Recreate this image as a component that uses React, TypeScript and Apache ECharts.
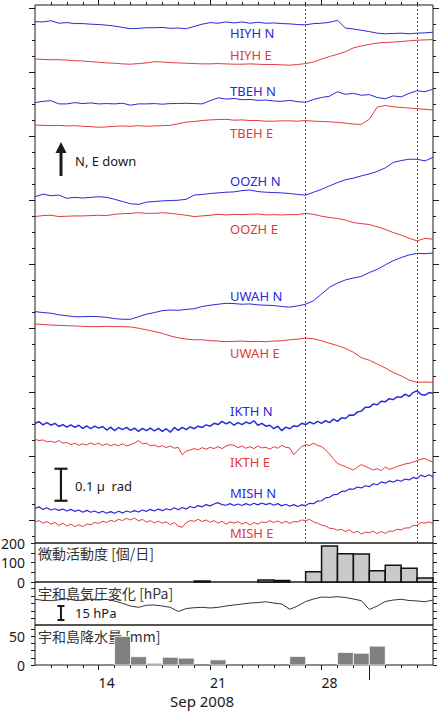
import React, { useEffect, useRef } from 'react';
import * as echarts from 'echarts';

// Time is measured in days from 2008-09-10 00:00 UTC; the record runs to 2008-10-05.
const T0 = Date.UTC(2008, 8, 10);
const T_SPAN = 25;
const dayOf = (iso: string) => (Date.parse(iso + 'T00:00:00Z') - T0) / 86400000;

// Tiltmeter records in nrad (stacked for display), one sample every half day.
const HALF_DAY = 0.5;
const QUARTER_DAY = 0.25;

const HIYH_N = [1557,1556,1560,1552,1554,1551,1551,1549,1548,1546,1543,1539,1535,1536,1538,1538,1539,1536,1537,1535,1542,1549,1554,1552,1556,1553,1556,1552,1555,1552,1553,1551,1550,1548,1547,1551,1552,1555,1561,1537,1534,1530,1526,1521,1519,1520,1521,1519,1521,1522,1524];
const HIYH_E = [1440,1439,1438,1438,1437,1435,1434,1432,1430,1428,1427,1425,1424,1426,1428,1432,1431,1429,1428,1427,1426,1425,1425,1426,1425,1424,1424,1425,1424,1423,1423,1422,1421,1423,1426,1431,1440,1448,1455,1463,1475,1481,1486,1490,1492,1493,1495,1497,1499,1500,1501];
const TBEH_N = [1304,1308,1310,1300,1300,1304,1301,1303,1300,1301,1300,1302,1296,1300,1300,1301,1299,1301,1301,1302,1301,1300,1310,1319,1315,1317,1313,1314,1311,1312,1309,1308,1311,1307,1305,1314,1320,1324,1338,1330,1333,1327,1329,1320,1316,1325,1322,1333,1341,1338,1346];
const TBEH_E = [1234,1233,1232,1233,1231,1232,1230,1229,1227,1228,1230,1231,1230,1232,1230,1231,1232,1233,1238,1243,1245,1248,1250,1251,1252,1249,1250,1248,1248,1246,1246,1247,1247,1246,1248,1246,1245,1244,1242,1240,1237,1236,1252,1290,1295,1291,1289,1287,1285,1283,1281];
const OOZH_N = [1010,1018,1013,1015,1005,1008,1006,1008,1010,1008,1002,995,988,986,993,995,997,998,999,1002,1015,1017,1020,1022,1024,1025,1029,1031,1026,1024,1023,1022,1020,1017,1015,1024,1033,1044,1054,1063,1068,1075,1081,1089,1100,1117,1123,1127,1127,1122,1133];
const OOZH_E = [948,951,952,948,949,950,950,951,952,951,955,957,958,960,958,958,960,958,955,952,948,950,952,955,953,955,954,955,956,953,954,953,954,954,958,955,949,945,942,937,929,926,923,916,908,898,890,880,872,880,877];
const UWAH_N = [651,648,646,641,638,635,635,636,635,633,629,627,627,635,643,648,654,656,655,658,660,667,671,674,677,676,674,675,672,671,670,667,665,669,674,685,706,727,740,750,756,761,773,783,797,810,820,828,833,832,834];
const UWAH_E = [612,611,609,608,607,606,605,604,604,605,604,604,603,599,594,589,583,575,569,565,563,563,560,559,557,558,559,557,558,557,559,560,563,565,568,566,560,552,545,536,524,507,499,487,475,461,450,437,430,431,430];

// The two noisier stations are read every quarter day.
const IKTH_N = [302,307,297,304,296,302,292,298,290,297,289,296,286,294,285,293,287,292,281,290,279,289,282,289,280,287,277,286,279,287,278,286,277,285,274,289,280,289,282,291,285,293,289,297,293,302,298,308,300,306,296,304,298,306,301,310,296,302,293,296,285,293,279,290,285,294,292,302,298,306,300,308,302,310,304,315,308,319,317,328,327,337,340,352,352,362,360,371,369,379,376,385,383,393,386,398,404,392,390,398,396];
const IKTH_E = [252,248,250,244,246,242,248,240,242,235,240,233,238,234,241,235,240,233,238,232,236,232,238,231,235,240,248,238,240,232,234,228,232,226,231,224,227,204,215,219,223,219,226,221,227,223,229,223,231,235,233,226,231,224,229,223,231,225,227,221,229,224,233,227,225,204,217,229,235,233,240,233,229,219,206,190,177,171,167,161,156,165,173,167,162,156,160,154,165,158,162,167,171,175,177,181,185,190,192,185,181];
const MISH_N = [36,41,33,38,31,35,30,34,28,33,27,31,24,30,24,28,22,27,21,26,21,27,22,28,24,29,25,31,27,33,28,34,29,35,31,38,32,39,34,42,38,45,41,48,44,50,54,48,46,51,45,50,45,51,46,52,47,53,48,52,46,51,44,49,43,48,42,47,45,52,51,59,60,69,71,79,80,89,90,97,96,103,100,107,104,113,110,119,115,122,118,125,121,128,125,133,129,140,135,141,135];
const MISH_E = [-6,-2,-10,-5,-13,-8,-17,-10,-19,-13,-21,-15,-21,-13,-15,-8,-11,-4,-8,-1,-5,2,-2,5,0,6,-3,2,-7,-2,-9,-4,-10,-6,-15,-8,-19,-23,-8,-2,-4,2,-5,0,-7,-2,-10,-4,-13,-6,-10,-5,-13,-7,-16,-8,-13,-6,-8,-2,-8,-3,-10,-4,-11,-5,-6,0,-2,2,-6,-10,-16,-19,-26,-27,-32,-29,-36,-31,-40,-35,-44,-38,-40,-35,-43,-36,-42,-35,-35,-29,-31,-25,-25,-17,-17,-8,-10,-6,-11];

// Days of notable activity marked across the tilt records.
const EVENT_DATES = ['2008-09-27', '2008-10-04'];

// Daily tremor activity [events/day].
const TREMOR_DATES = ['2008-09-20','2008-09-24','2008-09-25','2008-09-27','2008-09-28','2008-09-29','2008-09-30','2008-10-01','2008-10-02','2008-10-03','2008-10-04'];
const TREMOR_COUNTS = [5, 10, 8, 53, 185, 145, 143, 58, 86, 70, 21];

// Uwajima air-pressure change [hPa], every half day.
const PRESSURE = [-3.5,-4.6,-5.0,-4.0,-2.9,-4.6,-4.6,-3.5,-4.3,-3.5,-5.3,-7.8,-10.7,-12.1,-9.9,-9.6,-10.7,-12.1,-16.6,-13.4,-12.5,-12.1,-12.8,-12.1,-10.7,-9.6,-8.6,-7.5,-7.0,-6.1,-7.5,-8.6,-14.2,-10.7,-5.9,-3.2,-1.1,-1.4,-0.7,-1.6,-3.2,-5.0,-14.4,-10.7,-5.9,-4.3,-3.5,-4.8,-5.3,-6.1,-4.3];

// Uwajima daily precipitation [mm].
const RAIN_DATES = ['2008-09-15','2008-09-16','2008-09-17','2008-09-18','2008-09-19','2008-09-21','2008-09-26','2008-09-29','2008-09-30','2008-10-01'];
const RAIN_MM = [50, 14.5, 3, 13.5, 12, 9, 15, 22, 20.5, 33];

// Reference bars: 0.1 µrad of tilt, 15 hPa of pressure.
const TILT_BAR_NRAD = 100;
const PRESSURE_BAR_HPA = 15;

// Date tick labels.
const WEEK_DATES = ['2008-09-14', '2008-09-21', '2008-09-28'];
const MONTH_DATE = '2008-10-01';

const BLUE = '#2929d8';
const RED = '#e3383c';
const INK = '#1a1a1a';
const LATIN = '"Noto Sans", "DejaVu Sans", sans-serif';
const CJK = '"Noto Sans CJK JP", "Noto Sans", sans-serif';

type Trace = { name: string; values: number[]; step: number; width: number };
const TRACES: Trace[] = [
  { name: 'HIYH N', values: HIYH_N, step: HALF_DAY, width: 1 },
  { name: 'HIYH E', values: HIYH_E, step: HALF_DAY, width: 1 },
  { name: 'TBEH N', values: TBEH_N, step: HALF_DAY, width: 1 },
  { name: 'TBEH E', values: TBEH_E, step: HALF_DAY, width: 1 },
  { name: 'OOZH N', values: OOZH_N, step: HALF_DAY, width: 1 },
  { name: 'OOZH E', values: OOZH_E, step: HALF_DAY, width: 1 },
  { name: 'UWAH N', values: UWAH_N, step: HALF_DAY, width: 1 },
  { name: 'UWAH E', values: UWAH_E, step: HALF_DAY, width: 1 },
  { name: 'IKTH N', values: IKTH_N, step: QUARTER_DAY, width: 1.5 },
  { name: 'IKTH E', values: IKTH_E, step: QUARTER_DAY, width: 1 },
  { name: 'MISH N', values: MISH_N, step: QUARTER_DAY, width: 1.2 },
  { name: 'MISH E', values: MISH_E, step: QUARTER_DAY, width: 1 },
];

const range = (a: number, b: number, s: number) => {
  const out: number[] = [];
  for (let v = a; v <= b + 1e-9; v += s) out.push(Math.round(v * 1000) / 1000);
  return out;
};

function buildOption() {
  const weekDays = WEEK_DATES.map(dayOf);
  const monthDay = dayOf(MONTH_DATE);
  const dailyTicks = range(1, T_SPAN - 1, 1);

  const tickLine = { color: INK, width: 1 };

  const xa = (gridIndex: number, position: string, ticks?: number[], len = 0, extra: any = {}) => ({
    type: 'value', gridIndex, position, min: 0, max: T_SPAN,
    axisLine: { show: false, onZero: false }, splitLine: { show: false },
    axisLabel: { show: false },
    axisTick: ticks ? { show: true, customValues: ticks, length: len, lineStyle: tickLine } : { show: false },
    ...extra,
  });
  const ya = (gridIndex: number, position: string, min: number, max: number, ticks: number[], len: number, extra: any = {}) => ({
    type: 'value', gridIndex, position, min, max,
    axisLine: { show: false, onZero: false }, splitLine: { show: false },
    axisLabel: { show: false },
    axisTick: { show: true, customValues: ticks, length: len, lineStyle: tickLine },
    ...extra,
  });

  const TILT_MIN = -72, TILT_MAX = 1609;
  const tiltMajor = range(0, 1600, 200);
  const tiltMinor = range(-50, 1600, 50);

  const yLabel = (values: number[]) => ({
    show: true, customValues: values, fontSize: 14, color: INK, margin: 10, fontFamily: LATIN,
  });

  const grids = [
    { left: 35, top: 5, width: 398, height: 538 },
    { left: 35, top: 543, width: 398, height: 39 },
    { left: 35, top: 582, width: 398, height: 43 },
    { left: 35, top: 625, width: 398, height: 40 },
  ].map((g) => ({ ...g, show: true, borderColor: INK, borderWidth: 1, containLabel: false, outerBoundsMode: 'none' }));

  const xAxis = [
    xa(0, 'top', weekDays, 5),
    xa(0, 'top', dailyTicks, 3),
    xa(1, 'bottom'),
    xa(2, 'bottom'),
    xa(3, 'bottom', weekDays, 5, {
      axisLabel: {
        show: true,
        customValues: weekDays.map((d) => d + 0.5),
        formatter: (v: number) => String(new Date(T0 + Math.floor(v) * 86400000).getUTCDate()),
        fontSize: 14, color: INK, margin: 10, fontFamily: LATIN,
      },
    }),
    xa(3, 'bottom', dailyTicks, 3),
    xa(3, 'bottom', [monthDay], 15),
  ];

  const yAxis = [
    ya(0, 'left', TILT_MIN, TILT_MAX, tiltMajor, 6),
    ya(0, 'left', TILT_MIN, TILT_MAX, tiltMinor, 3),
    ya(0, 'right', TILT_MIN, TILT_MAX, tiltMajor, 6),
    ya(0, 'right', TILT_MIN, TILT_MAX, tiltMinor, 3),
    ya(1, 'left', 0, 200, [0, 50, 100, 150, 200], 4, { axisLabel: yLabel([0, 100, 200]) }),
    ya(1, 'right', 0, 200, [0, 50, 100, 150, 200], 4),
    ya(2, 'left', -31, 15, [-24, -16, -8, 0, 8], 4),
    ya(2, 'right', -31, 15, [-24, -16, -8, 0, 8], 4),
    ya(3, 'left', 0, 70, [0, 12.5, 25, 37.5, 50, 62.5], 4, { axisLabel: yLabel([0, 50]) }),
    ya(3, 'right', 0, 70, [0, 12.5, 25, 37.5, 50, 62.5], 4),
  ];

  const iBeam = (capW: number, lw: number) => (_p: any, api: any) => {
    const x = api.value(0);
    const a = api.coord([x, api.value(1)]);
    const b = api.coord([x, api.value(2)]);
    const st = { stroke: INK, lineWidth: lw };
    return {
      type: 'group',
      children: [
        { type: 'line', shape: { x1: a[0], y1: a[1], x2: b[0], y2: b[1] }, style: st },
        { type: 'line', shape: { x1: a[0] - capW / 2, y1: a[1], x2: a[0] + capW / 2, y2: a[1] }, style: st },
        { type: 'line', shape: { x1: b[0] - capW / 2, y1: b[1], x2: b[0] + capW / 2, y2: b[1] }, style: st },
      ],
    };
  };

  // Daily bars: each covers its whole day, from the axis floor up to the value.
  const dayBar = (fill: string, stroke: string, lw: number) => (_p: any, api: any) => {
    const d = api.value(0);
    const v = api.value(1);
    const tl = api.coord([d, v]);
    const br = api.coord([d + 1, 0]);
    return {
      type: 'rect',
      shape: { x: tl[0], y: tl[1], width: br[0] - tl[0], height: br[1] - tl[1] },
      style: { fill, stroke, lineWidth: lw },
    };
  };

  const BAR_DAY = 1.63; // horizontal place of the reference bars
  const tiltBarBase = 60;
  const pressureBarBase = -25.7;

  const series: any[] = TRACES.map((tr, idx) => ({
    type: 'line',
    name: tr.name,
    xAxisIndex: 0,
    yAxisIndex: 0,
    data: tr.values.map((v, i) => [i * tr.step, v]),
    showSymbol: false,
    symbol: 'none',
    silent: true,
    lineStyle: { width: tr.width, color: tr.name.endsWith('N') ? BLUE : RED },
    z: 3,
    ...(idx === 0
      ? {
          markLine: {
            silent: true,
            symbol: ['none', 'none'],
            label: { show: false },
            lineStyle: { type: [2, 2], color: '#555', width: 1 },
            data: EVENT_DATES.map((d) => ({ xAxis: dayOf(d) })),
          },
        }
      : {}),
  }));

  series.push({
    type: 'custom',
    xAxisIndex: 0,
    yAxisIndex: 0,
    silent: true,
    data: [[BAR_DAY, tiltBarBase, tiltBarBase + TILT_BAR_NRAD]],
    renderItem: iBeam(13, 2.2),
    z: 4,
  });

  series.push({
    type: 'custom',
    xAxisIndex: 2,
    yAxisIndex: 4,
    silent: true,
    data: TREMOR_DATES.map((d, i) => [dayOf(d), TREMOR_COUNTS[i]]),
    renderItem: dayBar('#c9c9c9', '#111', 1.5),
    z: 3,
  });

  series.push({
    type: 'line',
    xAxisIndex: 3,
    yAxisIndex: 6,
    showSymbol: false,
    symbol: 'none',
    silent: true,
    data: PRESSURE.map((v, i) => [i * HALF_DAY, v]),
    lineStyle: { width: 1, color: '#333' },
    z: 3,
  });

  series.push({
    type: 'custom',
    xAxisIndex: 3,
    yAxisIndex: 6,
    silent: true,
    data: [[BAR_DAY, pressureBarBase, pressureBarBase + PRESSURE_BAR_HPA]],
    renderItem: iBeam(7, 2),
    z: 4,
  });

  series.push({
    type: 'custom',
    xAxisIndex: 4,
    yAxisIndex: 8,
    silent: true,
    data: RAIN_DATES.map((d, i) => [dayOf(d), RAIN_MM[i]]),
    renderItem: dayBar('#808080', 'rgba(255,255,255,0.75)', 1),
    z: 3,
  });

  const labelY: Record<string, number> = {
    'HIYH N': 33, 'HIYH E': 55, 'TBEH N': 91, 'TBEH E': 133,
    'OOZH N': 181, 'OOZH E': 229, 'UWAH N': 296, 'UWAH E': 353,
    'IKTH N': 411, 'IKTH E': 462, 'MISH N': 493, 'MISH E': 533,
  };

  const text = (x: number, y: number, t: string, fill: string, font: string, extra: any = {}) => ({
    type: 'text', x, y, silent: true, z: 1,
    style: { text: t, fill, font, verticalAlign: 'middle', align: 'left', ...extra },
  });

  const graphic: any[] = [
    ...TRACES.map((tr) =>
      text(230, labelY[tr.name], tr.name, tr.name.endsWith('N') ? BLUE : RED, `13px ${LATIN}`)
    ),
    { type: 'line', silent: true, shape: { x1: 61, y1: 176, x2: 61, y2: 151 }, style: { stroke: INK, lineWidth: 3 } },
    { type: 'polygon', silent: true, shape: { points: [[61, 142], [55.5, 153], [66.5, 153]] }, style: { fill: INK } },
    text(75, 161, 'N, E down', INK, `13px ${LATIN}`),
    text(75, 486, '0.1 µ  rad', INK, `13px ${LATIN}`),
    text(75, 613, '15 hPa', INK, `13px ${LATIN}`),
    text(38, 553, '微動活動度 [個/日]', '#333', `14px ${CJK}`),
    text(38, 593, '宇和島気圧変化 [hPa]', '#333', `14px ${CJK}`),
    text(38, 636, '宇和島降水量 [mm]', '#333', `14px ${CJK}`),
    text(202, 701, 'Sep 2008', INK, `15px ${LATIN}`, { align: 'center' }),
  ];

  return {
    animation: false,
    backgroundColor: '#ffffff',
    textStyle: { fontFamily: LATIN },
    grid: grids,
    xAxis,
    yAxis,
    series,
    graphic,
  };
}

export default function App() {
  const ref = useRef<HTMLDivElement>(null);
  useEffect(() => {
    if (!ref.current) return;
    const chart = echarts.init(ref.current, null, { renderer: 'svg' });
    chart.setOption(buildOption() as any);
    return () => chart.dispose();
  }, []);
  return (
    <div
      ref={ref}
      style={{ position: 'absolute', left: 0, top: 0, width: 440, height: 711, background: '#fff' }}
    />
  );
}
